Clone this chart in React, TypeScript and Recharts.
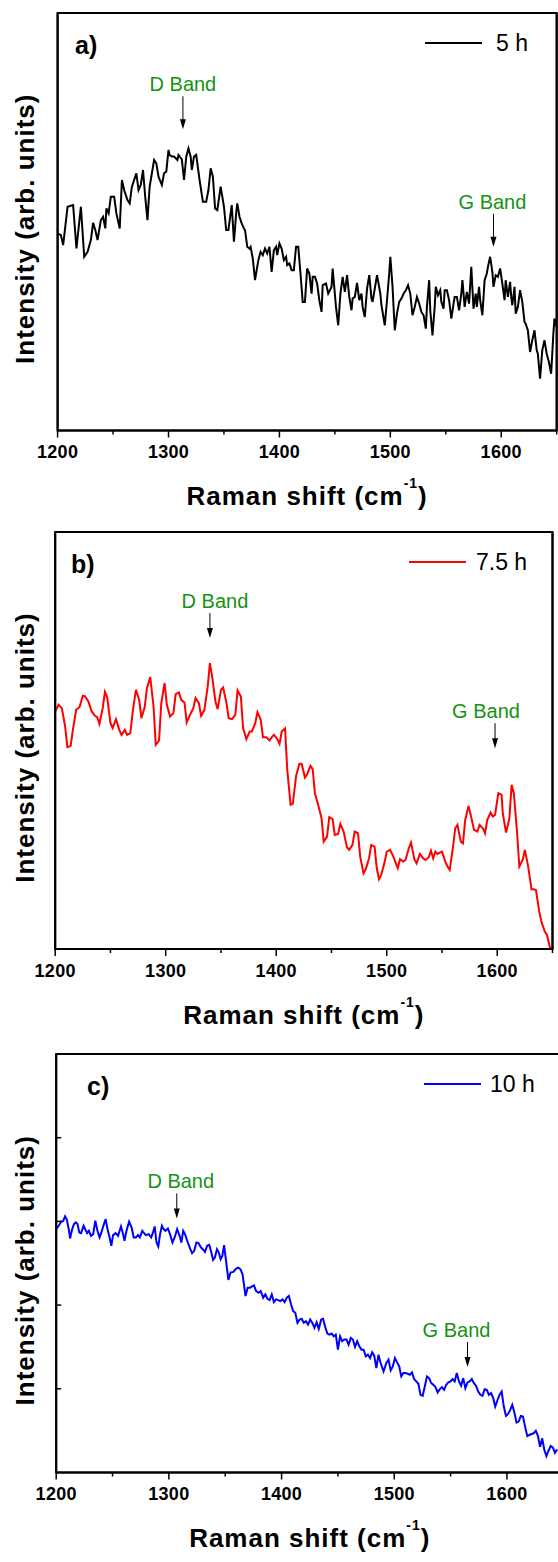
import React from 'react';
import { LineChart, Line, XAxis, YAxis, ReferenceDot, ReferenceArea, Legend, Label } from 'recharts';

// Raman spectra, arbitrary intensity units (0 = bottom of frame)
const shiftA = [1200,1203,1205,1209,1214,1217,1221,1224,1227,1230,1232,1234,1236,1239,1241,1243,1244,1246,1248,1251,1253,1256,1258,1260,1263,1265,1267,1271,1273,1275,1277,1279,1281,1283,1287,1289,1291,1294,1296,1298,1300,1301,1303,1305,1308,1309,1312,1314,1316,1318,1320,1321,1323,1325,1326,1328,1331,1334,1336,1338,1340,1342,1344,1347,1350,1352,1354,1357,1359,1361,1362,1364,1366,1368,1369,1371,1373,1374,1376,1378,1381,1383,1385,1387,1389,1391,1393,1395,1397,1398,1400,1402,1404,1406,1407,1409,1411,1413,1415,1417,1419,1421,1423,1425,1427,1429,1430,1432,1434,1436,1438,1439,1442,1444,1447,1448,1451,1453,1455,1457,1459,1461,1463,1465,1466,1468,1470,1472,1474,1475,1477,1479,1481,1483,1484,1486,1488,1491,1492,1495,1497,1499,1500,1502,1504,1506,1508,1510,1512,1514,1516,1518,1520,1522,1524,1526,1528,1530,1532,1533,1535,1536,1538,1540,1541,1543,1545,1546,1548,1549,1551,1553,1555,1557,1558,1560,1562,1564,1565,1567,1569,1571,1573,1575,1577,1578,1580,1581,1583,1585,1587,1588,1590,1592,1593,1595,1597,1599,1601,1603,1604,1606,1608,1609,1610,1612,1613,1615,1617,1619,1621,1622,1624,1626,1628,1630,1632,1633,1635,1637,1639,1641,1643,1645,1647,1648,1650];
const intensityA = [590,585,555,670,675,545,670,520,535,570,622,600,570,630,640,605,665,650,700,700,650,605,750,720,690,680,730,770,720,735,780,700,630,730,810,800,760,735,770,775,840,825,820,820,810,825,812,750,820,845,820,780,820,825,800,750,685,685,720,785,760,665,660,730,670,600,600,675,565,650,680,640,620,605,600,550,545,550,515,450,510,535,525,545,530,550,475,540,550,525,560,545,510,520,495,500,480,480,550,550,470,385,385,485,470,410,460,460,440,390,355,435,440,410,430,485,370,315,410,460,415,465,400,360,395,400,442,390,410,370,340,425,465,395,385,425,465,410,375,315,390,470,520,430,300,350,385,395,410,420,435,410,345,370,400,380,355,345,305,370,450,360,285,370,430,405,420,385,365,420,420,390,335,380,400,400,360,410,450,370,415,380,490,365,410,370,430,390,345,450,470,490,520,475,430,465,460,485,440,390,450,400,445,400,375,430,350,370,420,385,325,320,300,235,270,300,240,230,155,240,270,230,205,170,290,335,310];

const shiftB = [1200,1203,1206,1209,1211,1214,1216,1219,1222,1225,1227,1230,1233,1236,1238,1240,1243,1245,1247,1250,1252,1255,1258,1260,1263,1265,1268,1270,1273,1276,1278,1281,1283,1286,1289,1291,1294,1296,1299,1301,1304,1307,1309,1312,1314,1317,1319,1322,1325,1327,1330,1332,1335,1338,1340,1342,1345,1347,1350,1352,1355,1357,1360,1363,1365,1368,1370,1373,1376,1378,1381,1383,1386,1388,1391,1394,1396,1398,1401,1403,1405,1408,1410,1413,1415,1418,1421,1423,1426,1428,1431,1433,1435,1438,1441,1443,1446,1448,1451,1453,1456,1458,1461,1464,1466,1469,1471,1474,1476,1479,1481,1484,1486,1489,1491,1493,1495,1498,1500,1503,1506,1508,1510,1512,1515,1517,1520,1522,1525,1527,1530,1533,1535,1538,1540,1542,1544,1546,1548,1550,1553,1555,1557,1560,1562,1564,1567,1569,1571,1574,1576,1579,1582,1584,1587,1589,1591,1594,1596,1598,1601,1604,1605,1608,1611,1613,1615,1618,1620,1623,1625,1628,1631,1633,1635,1638,1640,1643,1645,1648];
const intensityB = [712,732,722,667,605,609,657,717,725,759,757,742,712,699,695,675,722,771,755,677,662,689,657,642,657,642,647,707,777,747,692,725,782,815,727,612,625,737,797,732,697,707,764,769,747,739,679,702,722,752,737,699,717,787,857,817,742,719,777,784,737,692,689,702,775,757,662,629,652,652,677,710,687,635,635,625,635,642,629,615,652,661,537,432,435,519,555,555,514,524,549,539,467,432,392,322,337,395,389,342,345,375,352,305,297,312,352,347,277,227,239,272,312,307,242,209,222,259,292,297,277,259,242,269,262,267,302,319,269,257,285,272,267,275,295,272,292,285,289,292,262,247,237,307,362,372,322,317,387,429,402,357,352,372,362,347,387,409,397,402,467,462,407,349,392,492,467,347,247,267,297,247,179,179,177,112,82,52,42,0];

const shiftC = [1200,1202.2,1204.4,1206.3,1207.9,1209.5,1211.4,1212.3,1214.2,1215.8,1217.4,1218.9,1220.5,1222.1,1224.3,1225.9,1227.5,1229,1230.9,1232.8,1234.7,1236.6,1238.5,1240.1,1241.7,1243.9,1245.5,1247.4,1248.9,1250.5,1252.7,1254.9,1257.5,1259,1260.6,1262.5,1264.7,1266.9,1268.8,1270.7,1272.6,1274.2,1276.4,1278,1279.6,1282.1,1284.3,1285.9,1287.4,1289,1290.6,1292.2,1293.8,1295.3,1296.9,1299.1,1301,1303.2,1305.4,1307.3,1309.5,1311.1,1312.7,1314.3,1316.8,1319,1320.6,1322.5,1324.4,1326.3,1328.5,1330.1,1332,1333.9,1335.8,1337.3,1339.2,1340.8,1342.7,1344.3,1345.9,1347.4,1349,1350.9,1352.8,1354.7,1357.2,1359.7,1361.6,1363.5,1365.4,1368,1369.9,1372.1,1374.3,1375.5,1377.4,1379.6,1381.5,1383.7,1385.6,1387.5,1389.4,1391.3,1393.2,1395.1,1397,1398.9,1400.8,1402.7,1404.6,1406.5,1408.4,1410.3,1412.2,1414.1,1416,1417.8,1419.7,1421.6,1423.5,1425.4,1427.3,1429.2,1431.1,1433,1435.2,1436.8,1438.7,1440.6,1442.5,1444.4,1446.3,1448.1,1450,1451.9,1453.8,1455.7,1457.6,1459.5,1461.4,1463.3,1465.2,1467.1,1469,1470.9,1472.8,1474.7,1476.6,1478.5,1480.4,1482.2,1484.1,1486,1487.9,1490.5,1493,1494.9,1496.8,1498.7,1500.6,1502.5,1504.4,1506.2,1508.1,1510,1511.9,1513.8,1515.7,1517.6,1519.5,1521.4,1523.3,1525.2,1527.1,1529,1530.9,1532.8,1534.7,1536.6,1538.5,1540.4,1542.3,1544.2,1546.1,1548,1549.9,1551.8,1553.6,1555.5,1557.4,1559.3,1561.2,1563.1,1565,1566.9,1568.8,1570.7,1572.6,1574.5,1576.4,1578.3,1580.2,1582.1,1584,1585.9,1587.8,1589.6,1591.5,1593.4,1595.3,1597.2,1599.1,1601,1602.9,1604.7,1606.6,1608.5,1610.4,1612.3,1614.2,1616.1,1618,1619.9,1621.8,1623.7,1625.6,1627.5,1629.4,1631.3,1633.2,1635,1636.9,1638.8,1640.7,1642.6,1644.5];
const intensityC = [727,737,749,752,765,755,722,699,727,742,747,742,717,715,737,725,715,722,707,712,752,722,702,717,735,757,727,702,677,709,715,707,735,717,692,724,749,732,702,702,709,702,722,715,709,712,702,717,735,687,675,712,737,727,722,729,712,687,705,727,707,687,722,712,687,667,655,662,687,685,672,667,659,677,680,662,635,642,667,657,637,647,679,627,575,597,599,609,612,607,592,527,552,552,557,559,542,537,542,522,532,519,515,532,509,517,515,512,517,509,522,527,502,482,477,447,457,459,447,452,442,457,447,432,449,429,457,459,435,415,412,415,407,412,367,407,392,397,397,382,402,397,375,392,377,367,367,347,352,342,359,349,312,352,327,302,327,337,305,317,342,329,317,287,297,297,295,292,299,279,272,265,232,229,257,287,282,267,262,255,239,249,255,247,262,269,272,279,272,297,272,259,282,252,269,272,279,267,259,242,232,229,249,247,232,237,222,197,215,232,242,197,169,175,187,202,179,149,152,169,167,137,109,112,115,117,125,109,77,102,67,49,65,79,75,59,69];

const seriesNames = ['5 h', '7.5 h', '10 h'];
const panelLetters = ['a)', 'b)', 'c)'];
const dBandShift = [1313, 1340, 1307];
const dBandIntensity = [902, 932, 759];
const gBandShift = [1593, 1598, 1565];
const gBandIntensity = [550, 602, 315];
const xTicks = [1200, 1250, 1300, 1350, 1400, 1450, 1500, 1550, 1600, 1650];
const yTicks = [250, 500, 750, 1000];
const xDomain = [1200, 1650];
const yDomain = [0, 1250];

const shifts = [shiftA, shiftB, shiftC];
const intensities = [intensityA, intensityB, intensityC];

const colors = ['#000000', '#ff0000', '#0000ff'];
const FONT = '"Liberation Sans", Arial, Helvetica, sans-serif';
const GREEN = '#139313';
const PAD = 10;
const AXIS_H = 100;
const axisStroke = { stroke: '#000', strokeWidth: 2 };

// frame geometry per panel (page pixels)
const frames = [
  { left: 57.6, right: 556.7, top: 12.5, bottom: 430, legendLeft: 425, legendGap: 14, letterX: 75, arrow: 33, dDx: 0, gDx: -1, yTicks: false },
  { left: 55.2, right: 552.5, top: 532, bottom: 949, legendLeft: 409, legendGap: 10, letterX: 71, arrow: 25, dDx: 5, gDx: -9, yTicks: false },
  { left: 56.2, right: 563.3, top: 1053.5, bottom: 1472, legendLeft: 424, legendGap: 9, letterX: 87, arrow: 25, dDx: 4, gDx: -11, yTicks: true },
];

const XTick = (props: any) => {
  const { x, y, payload } = props;
  const major = payload.value % 100 === 0;
  return (
    <g>
      <line x1={x} y1={y} x2={x} y2={y + (major ? 7 : 4)} stroke="#000" strokeWidth={1.5} />
      {major && (
        <text x={x} y={y + 15} dy="0.71em" textAnchor="middle" fontFamily={FONT} fontWeight="bold" fontSize={18} letterSpacing={0.3} fill="#000">
          {payload.value}
        </text>
      )}
    </g>
  );
};

// inward tick on the left frame edge
const YTickIn = (props: any) => (
  <line x1={props.x} y1={props.y} x2={props.x + 5} y2={props.y} stroke="#000" strokeWidth={1.5} />
);

const XTitle = (props: any) => {
  const { x, y, width } = props.viewBox;
  return (
    <text x={x + width / 2} y={y + 75} textAnchor="middle" fontFamily={FONT} fontWeight="bold" fontSize={26} letterSpacing={1} fill="#000">
      <tspan>Raman shift (cm</tspan>
      <tspan fontSize={14} dy={-17}>-1</tspan>
      <tspan dy={17}>)</tspan>
    </text>
  );
};

const YTitle = (props: any) => {
  const { y, height } = props.viewBox;
  const cx = 34;
  const cy = y + height / 2 + 7;
  return (
    <text x={cx} y={cy} transform={`rotate(-90 ${cx} ${cy})`} textAnchor="middle" fontFamily={FONT} fontWeight="bold" fontSize={26} letterSpacing={1} fill="#000">
      Intensity (arb. units)
    </text>
  );
};

const bandMarker = (label: string, arrowLen: number, dx: number) => (p: any) => {
  const { cx, cy } = p;
  return (
    <g>
      <line x1={cx} y1={cy - arrowLen} x2={cx} y2={cy - 8} stroke="#000" strokeWidth={1} />
      <polygon points={`${cx - 3},${cy - 10} ${cx + 3},${cy - 10} ${cx},${cy}`} fill="#000" />
      <text x={cx + dx} y={cy - arrowLen - 12 + 7} textAnchor="middle" fontFamily={FONT} fontSize={20} fill={GREEN}>
        {label}
      </text>
    </g>
  );
};

const Panel = ({ idx }: { idx: number }) => {
  const f = frames[idx];
  const data = shifts[idx].map((x, i) => ({ x, y: intensities[idx][i] }));
  const plotH = f.bottom - f.top;
  const width = f.right + PAD;
  const height = PAD + plotH + AXIS_H;

  const letterLabel = () => (
    <text x={f.letterX} y={PAD + 41} fontFamily={FONT} fontWeight="bold" fontSize={25} fill="#000">
      {panelLetters[idx]}
    </text>
  );

  const renderLegend = (props: any) => (
    <div style={{ display: 'flex', alignItems: 'center', height: 28 }}>
      {(props.payload || []).map((p: any) => (
        <React.Fragment key={p.value}>
          <svg width={57} height={4} style={{ display: 'block' }}>
            <line x1={0} y1={2} x2={57} y2={2} stroke={p.color} strokeWidth={2} />
          </svg>
          <span style={{ marginLeft: f.legendGap, fontFamily: FONT, fontSize: 23, lineHeight: '28px', color: '#000', whiteSpace: 'nowrap' }}>
            {p.value}
          </span>
        </React.Fragment>
      ))}
    </div>
  );

  return (
    <div style={{ position: 'absolute', left: 0, top: f.top - PAD }}>
      <LineChart width={width} height={height} data={data} margin={{ top: 0, right: 0, bottom: 0, left: 0 }}>
        <XAxis
          xAxisId="b"
          dataKey="x"
          type="number"
          domain={xDomain}
          ticks={xTicks}
          interval={0}
          allowDataOverflow
          tickLine={false}
          tickSize={0}
          tickMargin={0}
          height={AXIS_H}
          axisLine={axisStroke}
          tick={XTick}
        >
          <Label content={XTitle} />
        </XAxis>
        <XAxis
          xAxisId="t"
          orientation="top"
          dataKey="x"
          type="number"
          domain={xDomain}
          ticks={xTicks}
          interval={0}
          allowDataOverflow
          height={PAD}
          tick={false}
          tickSize={3}
          tickLine={{ stroke: '#000', strokeWidth: 1 }}
          axisLine={axisStroke}
        >
          <Label content={letterLabel} />
        </XAxis>
        <YAxis
          yAxisId="l"
          type="number"
          domain={yDomain}
          allowDataOverflow
          width={f.left}
          ticks={yTicks}
          interval={0}
          tick={f.yTicks ? YTickIn : false}
          tickSize={0}
          tickMargin={0}
          tickLine={false}
          axisLine={axisStroke}
        >
          <Label content={YTitle} />
        </YAxis>
        <YAxis
          yAxisId="r"
          orientation="right"
          type="number"
          domain={yDomain}
          width={PAD}
          tick={false}
          tickLine={false}
          axisLine={axisStroke}
        />
        <ReferenceArea
          xAxisId="b"
          yAxisId="l"
          x1={xDomain[0]}
          x2={xDomain[1]}
          y1={yDomain[0]}
          y2={yDomain[1]}
          ifOverflow="visible"
          fill="none"
          fillOpacity={0}
          stroke="#000"
          strokeWidth={2}
        />
        <Line
          xAxisId="b"
          yAxisId="l"
          type="linear"
          dataKey="y"
          name={seriesNames[idx]}
          stroke={colors[idx]}
          strokeWidth={2}
          dot={false}
          isAnimationActive={false}
        />
        <ReferenceDot xAxisId="b" yAxisId="l" x={dBandShift[idx]} y={dBandIntensity[idx]} r={0} shape={bandMarker('D Band', f.arrow, f.dDx)} />
        <ReferenceDot xAxisId="b" yAxisId="l" x={gBandShift[idx]} y={gBandIntensity[idx]} r={0} shape={bandMarker('G Band', f.arrow, f.gDx)} />
        <Legend
          layout="horizontal"
          verticalAlign="middle"
          align="center"
          wrapperStyle={{ left: f.legendLeft, top: PAD + 30 - 14, width: 'auto' }}
          content={renderLegend}
        />
      </LineChart>
    </div>
  );
};

export default function App() {
  return (
    <div style={{ position: 'absolute', left: 0, top: 0, width: 558, height: 1562, overflow: 'hidden', background: '#fff' }}>
      <Panel idx={0} />
      <Panel idx={1} />
      <Panel idx={2} />
    </div>
  );
}
